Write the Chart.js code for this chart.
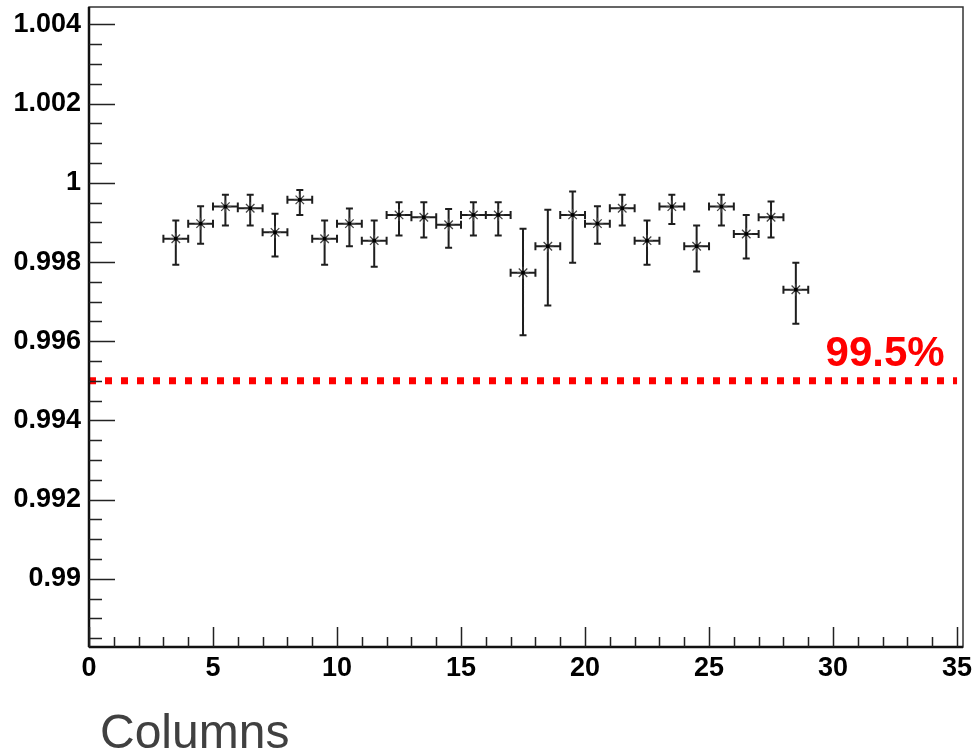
<!DOCTYPE html>
<html>
<head>
<meta charset="utf-8">
<title>Efficiency per column</title>
<script src="https://cdn.jsdelivr.net/npm/chart.js@4.4.1/dist/chart.umd.min.js"></script>
<style>
  html, body { margin: 0; padding: 0; background: #fff; }
  #wrap { width: 972px; height: 755px; }
</style>
</head>
<body>
<div id="wrap"><canvas id="effChart" width="972" height="755"></canvas></div>
<script>
// Column centres (bin width 1)
const columns = [3.5, 4.5, 5.5, 6.5, 7.5, 8.5, 9.5, 10.5, 11.5, 12.5, 13.5, 14.5, 15.5,
                 16.5, 17.5, 18.5, 19.5, 20.5, 21.5, 22.5, 23.5, 24.5, 25.5, 26.5, 27.5, 28.5];
const binHalfWidth = 0.5;

// Efficiency per column with asymmetric errors
const efficiency = [0.99859, 0.99897, 0.99940, 0.99936, 0.99875, 0.99957, 0.99859, 0.99897, 0.99854,
                    0.99919, 0.99913, 0.99894, 0.99919, 0.99919, 0.99773, 0.99840, 0.99919, 0.99897,
                    0.99936, 0.99854, 0.99940, 0.99840, 0.99940, 0.99871, 0.99913, 0.99730];
const errUp = [0.00046, 0.00044, 0.00030, 0.00034, 0.00047, 0.00025, 0.00046, 0.00038, 0.00051,
               0.00032, 0.00038, 0.00040, 0.00032, 0.00032, 0.00111, 0.00092, 0.00059, 0.00044,
               0.00034, 0.00051, 0.00030, 0.00052, 0.00030, 0.00048, 0.00040, 0.00068];
const errDown = [0.00066, 0.00051, 0.00048, 0.00044, 0.00061, 0.00038, 0.00066, 0.00057, 0.00066,
                 0.00052, 0.00051, 0.00058, 0.00052, 0.00052, 0.00158, 0.00150, 0.00121, 0.00051,
                 0.00044, 0.00061, 0.00044, 0.00064, 0.00048, 0.00062, 0.00051, 0.00086];

// Requirement line
const threshold = 0.995;

// Axis ticks
const xTickValues = [0, 5, 10, 15, 20, 25, 30, 35];
const xTickLabels = ['0', '5', '10', '15', '20', '25', '30', '35'];
const yTickValues = [0.990, 0.992, 0.994, 0.996, 0.998, 1.000, 1.002, 1.004];
const yTickLabels = ['0.99', '0.992', '0.994', '0.996', '0.998', '1', '1.002', '1.004'];
const xMinorStep = 1;
const yMinorStep = 0.0005;

const tickFont = { family: 'Liberation Sans, Arial, sans-serif', size: 27, weight: 'bold' };

// keep the frame where it is, whatever the label overhang
function fixBox(scale, size) {
  if (scale.isHorizontal()) scale.height = size; else scale.width = size;
  scale.paddingTop = scale.paddingBottom = scale.paddingLeft = scale.paddingRight = 0;
}

// ROOT-like frame, inward ticks, error bars and labels
const rootStyle = {
  id: 'rootStyle',
  beforeDatasetsDraw(chart) {
    const { ctx, scales: { x, y } } = chart;
    ctx.save();
    ctx.strokeStyle = '#1e1e1e';
    ctx.lineWidth = 2;
    ctx.beginPath();
    columns.forEach((c, i) => {
      const px = x.getPixelForValue(c);
      const py = y.getPixelForValue(efficiency[i]);
      const x0 = x.getPixelForValue(c - binHalfWidth);
      const x1 = x.getPixelForValue(c + binHalfWidth);
      const yTop = y.getPixelForValue(efficiency[i] + errUp[i]);
      const yBot = y.getPixelForValue(efficiency[i] - errDown[i]);
      ctx.moveTo(x0, py); ctx.lineTo(x1, py);
      ctx.moveTo(x0, py - 4); ctx.lineTo(x0, py + 4);
      ctx.moveTo(x1, py - 4); ctx.lineTo(x1, py + 4);
      ctx.moveTo(px, yTop); ctx.lineTo(px, yBot);
      ctx.moveTo(px - 3.5, yTop); ctx.lineTo(px + 3.5, yTop);
      ctx.moveTo(px - 3.5, yBot); ctx.lineTo(px + 3.5, yBot);
    });
    ctx.stroke();
    ctx.restore();
  },
  afterDatasetsDraw(chart) {
    const { ctx, chartArea: a, scales: { x, y } } = chart;
    ctx.save();

    // centre dots of the markers
    ctx.fillStyle = '#000';
    columns.forEach((c, i) => {
      const px = x.getPixelForValue(c);
      const py = y.getPixelForValue(efficiency[i]);
      ctx.fillRect(px - 1.8, py - 1.8, 3.6, 3.6);
    });

    // frame
    ctx.strokeStyle = '#333';
    ctx.lineWidth = 1.5;
    ctx.strokeRect(a.left, a.top, a.right - a.left, a.bottom - a.top);
    ctx.strokeStyle = '#111';
    ctx.lineWidth = 2.5;
    ctx.beginPath();
    ctx.moveTo(a.left, a.bottom); ctx.lineTo(a.right, a.bottom);
    ctx.moveTo(a.left, a.top); ctx.lineTo(a.left, a.bottom);
    ctx.stroke();

    // inward ticks
    ctx.strokeStyle = '#222';
    ctx.lineWidth = 1.5;
    ctx.beginPath();
    for (let k = Math.ceil(y.min / yMinorStep); k * yMinorStep <= y.max; k++) {
      const major = k % 4 === 0;
      const py = Math.round(y.getPixelForValue(k * yMinorStep)) + 0.5;
      ctx.moveTo(a.left, py);
      ctx.lineTo(a.left + (major ? 26 : 13), py);
    }
    for (let k = Math.ceil(x.min / xMinorStep); k * xMinorStep <= x.max; k++) {
      const major = k % 5 === 0;
      const px = Math.round(x.getPixelForValue(k * xMinorStep)) + 0.5;
      ctx.moveTo(px, a.bottom);
      ctx.lineTo(px, a.bottom - (major ? 20 : 10));
    }
    ctx.stroke();

    // requirement label
    ctx.fillStyle = '#ff0000';
    ctx.font = 'bold 42px Liberation Sans, Arial, sans-serif';
    ctx.textAlign = 'right';
    ctx.textBaseline = 'alphabetic';
    ctx.fillText((threshold * 100).toFixed(1) + '%', x.getPixelForValue(34.5), y.getPixelForValue(threshold) - 15);

    // axis title
    ctx.fillStyle = '#404040';
    ctx.font = '48px Liberation Sans, Arial, sans-serif';
    ctx.textAlign = 'left';
    ctx.fillText('Columns', a.left + 11, a.bottom + 101);
    ctx.restore();
  }
};

const ctx = document.getElementById('effChart').getContext('2d');
const effChart = new Chart(ctx, {
  type: 'scatter',
  data: {
    datasets: [{
      label: 'Efficiency',
      data: columns.map((c, i) => ({ x: c, y: efficiency[i] })),
      showLine: false,
      pointStyle: 'star',
      pointRadius: 6,
      pointBorderWidth: 1.3,
      pointBorderColor: '#444',
      pointBackgroundColor: '#444'
    }, {
      label: 'Requirement',
      type: 'line',
      data: [{ x: xTickValues[0], y: threshold }, { x: xTickValues[xTickValues.length - 1], y: threshold }],
      borderColor: '#ff0000',
      borderWidth: 7,
      borderDash: [7, 9],
      borderCapStyle: 'butt',
      pointRadius: 0,
      fill: false
    }]
  },
  options: {
    responsive: false,
    animation: false,
    layout: { autoPadding: false, padding: { top: 7, right: 9, left: 0, bottom: 0 } },
    plugins: { legend: { display: false }, tooltip: { enabled: false } },
    scales: {
      x: {
        type: 'linear',
        min: 0,
        max: 35.24,
        grid: { display: false, drawTicks: false },
        border: { display: false },
        afterBuildTicks: scale => { scale.ticks = xTickValues.map(v => ({ value: v })); },
        afterFit: scale => fixBox(scale, 108),
        ticks: {
          color: '#000',
          font: tickFont,
          padding: 5,
          maxRotation: 0,
          autoSkip: false,
          callback: (v, i) => xTickLabels[i]
        }
      },
      y: {
        type: 'linear',
        min: 0.98828,
        max: 1.00444,
        grid: { display: false, drawTicks: false },
        border: { display: false },
        afterBuildTicks: scale => { scale.ticks = yTickValues.map(v => ({ value: v })); },
        afterFit: scale => fixBox(scale, 89),
        ticks: {
          color: '#000',
          font: tickFont,
          padding: 8,
          autoSkip: false,
          callback: (v, i) => yTickLabels[i]
        }
      }
    }
  },
  plugins: [rootStyle]
});
</script>
</body>
</html>
